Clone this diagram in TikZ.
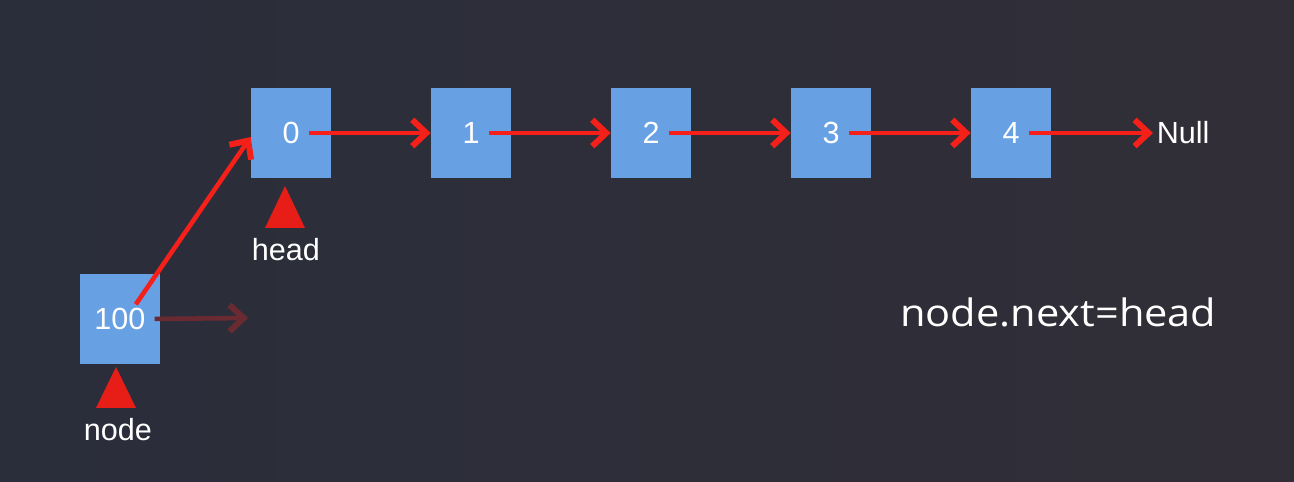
\documentclass[tikz,border=0pt]{standalone}
\usepackage{fontspec}
\setmainfont{Liberation Sans}
\newfontfamily\notefont{Open Sans}
\usetikzlibrary{arrows.meta}

\definecolor{bgdark}{RGB}{42,46,58}
\definecolor{bgright}{RGB}{49,46,55}
\definecolor{boxblue}{RGB}{104,160,228}
\definecolor{linkred}{RGB}{246,32,26}
\definecolor{fadered}{RGB}{105,42,50}

\tikzset{
  cell/.style={fill=boxblue, minimum width=1.6cm, minimum height=1.82cm, inner sep=0pt},
  val/.style={text=white, font=\fontsize{17.4}{20}\selectfont, inner sep=2pt},
  link/.style={draw=linkred, line width=2.6pt, shorten <=3pt,
    -{Straight Barb[length=8pt,width=15pt,line width=3.4pt]}},
  ptr/.style={fill=linkred!94!black}
}

\begin{document}
\begin{tikzpicture}[x=0.02cm,y=-0.02cm]
\shade[left color=bgdark, right color=bgright] (0,0) rectangle (1294,482);

\foreach \i in {0,...,4}
{
\node[cell] (n\i) at ({291+180*\i},133) {};
\node[val] (t\i) at (n\i) {\i};
}
\node[val, anchor=west] (null) at (1153,133) {Null};

\foreach \i in {0,...,3}
{
\pgfmathtruncatemacro{\j}{\i+1}
\draw[link] (t\i.east) -- (n\j.west);
}
\draw[link] (t4.east) -- (null.west);

% the new node
\node[cell] (n100) at (120,319) {};
\node[val] (t100) at (n100) {100};
\coordinate (ghost) at (248,318);
\draw[link, draw=fadered] (t100.east) -- (ghost);
\draw[link, shorten <=0pt] ([xshift=9pt]t100.north) -- ([yshift=-2.3pt]n0.west);

% pointers
\fill[ptr] (285,186) -- (305,228) -- (265,228) -- cycle;
\fill[ptr] (116,367) -- (136,408) -- (96,408) -- cycle;
\node[val] (headlbl) at (286,250) {head};
\node[val] (nodelbl) at (118,430) {node};

\node[text=white, anchor=base west, inner sep=0pt,
  font=\notefont\fontsize{21.5}{26}\selectfont] (note) at (900,327)
  {\scalebox{1.1}[1]{node.next=head}};
\end{tikzpicture}
\end{document}
